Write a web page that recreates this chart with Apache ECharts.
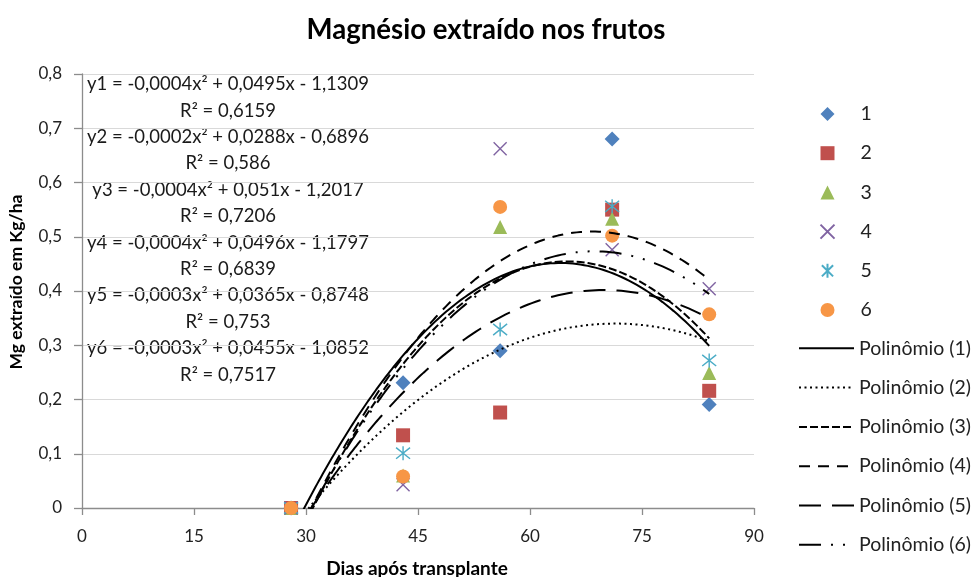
<!DOCTYPE html>
<html>
<head>
<meta charset="utf-8">
<script src="https://cdn.jsdelivr.net/npm/echarts@6/dist/echarts.min.js"></script>
<style>
  html, body { margin: 0; padding: 0; background: #ffffff; }
  #chart { width: 972px; height: 577px; }
</style>
</head>
<body>
<div id="chart"></div>
<script>
// Dias após transplante (sampling days)
const days = [28, 43, 56, 71, 84];

// Mg extraído (kg/ha) per treatment
const mg1 = [0, 0.231, 0.290, 0.680, 0.191];
const mg2 = [0, 0.134, 0.176, 0.550, 0.216];
const mg3 = [0, 0.060, 0.518, 0.533, 0.249];
const mg4 = [0, 0.043, 0.662, 0.476, 0.404];
const mg5 = [0, 0.101, 0.329, 0.556, 0.272];
const mg6 = [0, 0.058, 0.555, 0.502, 0.357];

const treatmentNames = ['1', '2', '3', '4', '5', '6'];
const trendNames = ['Polinômio (1)', 'Polinômio (2)', 'Polinômio (3)',
                    'Polinômio (4)', 'Polinômio (5)', 'Polinômio (6)'];

// Trendline equations and R² as printed on the chart
const equationLabels = [
  'y1 = -0,0004x² + 0,0495x - 1,1309', 'R² = 0,6159',
  'y2 = -0,0002x² + 0,0288x - 0,6896', 'R² = 0,586',
  'y3 = -0,0004x² + 0,051x - 1,2017',  'R² = 0,7206',
  'y4 = -0,0004x² + 0,0496x - 1,1797', 'R² = 0,6839',
  'y5 = -0,0003x² + 0,0365x - 0,8748', 'R² = 0,753',
  'y6 = -0,0003x² + 0,0455x - 1,0852', 'R² = 0,7517'
];

const treatments = [mg1, mg2, mg3, mg4, mg5, mg6];

const FONT = 'Lato, "Open Sans", sans-serif';
const colors = ['#4F81BD', '#C0504D', '#9BBB59', '#8064A2', '#4BACC6', '#F79646'];

// Least-squares quadratic fit y = a x² + b x + c
function quadFit(xs, ys) {
  const S = [0, 0, 0, 0, 0], T = [0, 0, 0];
  for (let i = 0; i < xs.length; i++) {
    let p = 1;
    for (let k = 0; k <= 4; k++) {
      S[k] += p;
      if (k <= 2) T[k] += ys[i] * p;
      p *= xs[i];
    }
  }
  const M = [
    [S[4], S[3], S[2], T[2]],
    [S[3], S[2], S[1], T[1]],
    [S[2], S[1], S[0], T[0]]
  ];
  for (let i = 0; i < 3; i++) {
    let piv = i;
    for (let r = i + 1; r < 3; r++) if (Math.abs(M[r][i]) > Math.abs(M[piv][i])) piv = r;
    [M[i], M[piv]] = [M[piv], M[i]];
    for (let r = 0; r < 3; r++) {
      if (r === i) continue;
      const f = M[r][i] / M[i][i];
      for (let c = i; c < 4; c++) M[r][c] -= f * M[i][c];
    }
  }
  return [M[0][3] / M[0][0], M[1][3] / M[1][1], M[2][3] / M[2][2]];
}

// Trendline samples across the observed range of days
function trendCurve(ys) {
  const [a, b, c] = quadFit(days, ys);
  const pts = [];
  const x0 = days[0], x1 = days[days.length - 1];
  for (let x = x0; x <= x1 + 1e-9; x += 0.25) pts.push([x, a * x * x + b * x + c]);
  return pts;
}

const symbols = [
  { symbol: 'diamond', size: 15, filled: true },
  { symbol: 'rect', size: 14, filled: true },
  { symbol: 'triangle', size: 14, filled: true },
  { symbol: 'path://M0,0L10,10M10,0L0,10', size: 13, filled: false },
  { symbol: 'path://M1,1L9,9M9,1L1,9M5,0L5,10', size: 14, filled: false },
  { symbol: 'circle', size: 14, filled: true }
];

const dashTypes = [
  'solid',
  [2, 3.5],
  [8, 3],
  [11, 8],
  [22, 11],
  [22, 10, 2, 10, 2, 10]
];

const series = [];
treatments.forEach((ys, i) => {
  const s = symbols[i];
  series.push({
    name: treatmentNames[i],
    type: 'scatter',
    data: days.map((d, j) => [d, ys[j]]),
    symbol: s.symbol,
    symbolSize: s.size,
    itemStyle: s.filled
      ? { color: colors[i], opacity: 1 }
      : { color: 'none', borderColor: colors[i], borderWidth: 1.4, opacity: 1 },
    emphasis: { disabled: true },
    z: 2
  });
});
treatments.forEach((ys, i) => {
  series.push({
    name: trendNames[i],
    type: 'line',
    data: trendCurve(ys),
    showSymbol: false,
    symbol: 'none',
    clip: true,
    lineStyle: { color: '#000000', width: 2, type: dashTypes[i] },
    itemStyle: { color: '#000000' },
    emphasis: { disabled: true },
    z: 3
  });
});

const legendText = { fontFamily: FONT, fontSize: 19.5, lineHeight: 20, color: '#222222' };

const chart = echarts.init(document.getElementById('chart'), null, { renderer: 'canvas' });

chart.setOption({
  animation: false,
  backgroundColor: '#ffffff',
  title: {
    text: 'Magnésio extraído nos frutos',
    left: 'center',
    top: 11,
    padding: 5,
    textStyle: { fontFamily: FONT, fontWeight: 'bold', fontSize: 27.6, color: '#000000' }
  },
  grid: { left: 82, right: 218, top: 74, bottom: 69 },
  xAxis: {
    type: 'value',
    min: 0, max: 90, interval: 15,
    axisLine: { show: true, lineStyle: { color: '#8c8c8c', width: 1.3 } },
    axisTick: { show: true, length: 7, lineStyle: { color: '#8c8c8c', width: 1.3 } },
    axisLabel: { margin: 20, fontFamily: FONT, fontSize: 17, color: '#222222' },
    splitLine: { show: false }
  },
  yAxis: {
    type: 'value',
    min: 0, max: 0.8, interval: 0.1,
    axisLine: { show: true, lineStyle: { color: '#8c8c8c', width: 1.3 } },
    axisTick: { show: true, length: 8, lineStyle: { color: '#8c8c8c', width: 1.3 } },
    axisLabel: {
      margin: 20, fontFamily: FONT, fontSize: 17, color: '#222222',
      formatter: v => (v === 0 ? '0' : v.toFixed(1).replace('.', ','))
    },
    splitLine: { show: true, lineStyle: { color: '#d9d9d9', width: 1 } }
  },
  legend: [
    {
      // treatment markers
      orient: 'vertical',
      left: 813,
      top: 99,
      padding: 5,
      itemWidth: 14,
      itemHeight: 14,
      itemGap: 19.2,
      selectedMode: false,
      textStyle: Object.assign({ padding: [0, 0, 0, 21] }, legendText),
      data: treatmentNames
    },
    {
      // trendline samples
      orient: 'vertical',
      left: 793,
      top: 333.3,
      padding: 5,
      itemWidth: 55,
      itemHeight: 16,
      itemGap: 19.3,
      selectedMode: false,
      textStyle: legendText,
      data: trendNames.map(n => ({ name: n, itemStyle: { opacity: 0 } }))
    }
  ],
  graphic: [
    {
      type: 'text',
      x: 228, y: 71,
      silent: true,
      style: {
        text: equationLabels.join('\n'),
        align: 'center',
        verticalAlign: 'top',
        lineHeight: 26.4,
        font: '18.5px ' + FONT,
        fill: '#1a1a1a'
      }
    },
    {
      type: 'text',
      x: 16, y: 282,
      rotation: Math.PI / 2,
      silent: true,
      style: {
        text: 'Mg extraído em Kg/ha',
        align: 'center',
        verticalAlign: 'middle',
        font: 'bold 17.5px ' + FONT,
        fill: '#000000'
      }
    },
    {
      type: 'text',
      x: 417, y: 569,
      silent: true,
      style: {
        text: 'Dias após transplante',
        align: 'center',
        verticalAlign: 'middle',
        font: 'bold 19px ' + FONT,
        fill: '#000000'
      }
    }
  ],
  series: series
});
</script>
</body>
</html>
